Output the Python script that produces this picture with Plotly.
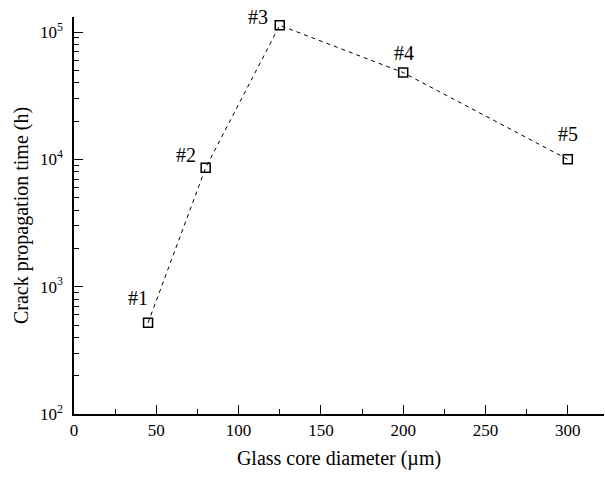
import math
import plotly.graph_objects as go

diameters = [45, 80, 125, 200, 300]
times = [520, 8600, 113000, 48000, 10000]
labels = ["#1", "#2", "#3", "#4", "#5"]

ytickvals = [100, 1000, 10000, 100000]
yticktext = ["10<sup>2</sup>", "10<sup>3</sup>", "10<sup>4</sup>", "10<sup>5</sup>"]
yminor = [m * 10 ** e for e in range(2, 5) for m in range(2, 10)] + [2e5]

# (xshift, yshift) in px, positive y = up
label_shift = [(-10, 25), (-20, 13), (-22, 8), (1, 20), (0, 25)]

font = "Liberation Serif, Times New Roman, serif"

fig = go.Figure()
fig.add_trace(go.Scatter(
    x=diameters, y=times, mode="lines+markers",
    line=dict(color="black", width=1, dash="4px,4px"),
    marker=dict(symbol="square-open", size=9, color="black", line=dict(width=1.5, color="black")),
    showlegend=False,
))

for x, y, t, (dx, dy) in zip(diameters, times, labels, label_shift):
    fig.add_annotation(x=x, y=math.log10(y), yref="y", xref="x", text=t, showarrow=False,
                       xshift=dx, yshift=dy, font=dict(family=font, size=20, color="black"))

fig.update_layout(
    width=605, height=479,
    margin=dict(l=74, r=1, t=17, b=65),
    plot_bgcolor="white", paper_bgcolor="white",
    font=dict(family=font, size=17, color="black"),
)
fig.update_xaxes(
    range=[0, 322], showgrid=False, zeroline=False,
    showline=True, linecolor="black", linewidth=1.5,
    ticks="inside", ticklen=9, tickwidth=1.2, tickcolor="black",
    tickvals=[0, 50, 100, 150, 200, 250, 300],
    minor=dict(tickvals=[25, 75, 125, 175, 225, 275], ticks="inside", ticklen=5, tickwidth=1.2, tickcolor="black"),
    title=dict(text="Glass core diameter (µm)", font=dict(size=20), standoff=12),
)
fig.update_yaxes(
    type="log", range=[2, 5.118], showgrid=False, zeroline=False,
    showline=True, linecolor="black", linewidth=1.5,
    ticks="inside", ticklen=9, tickwidth=1.2, tickcolor="black",
    tickvals=ytickvals, ticktext=yticktext, ticklabelstandoff=6,
    minor=dict(tickvals=yminor, ticks="inside", ticklen=5, tickwidth=1.2, tickcolor="black"),
    title=dict(text="Crack propagation time (h)", font=dict(size=20), standoff=6),
)

fig.write_html("out.html")
